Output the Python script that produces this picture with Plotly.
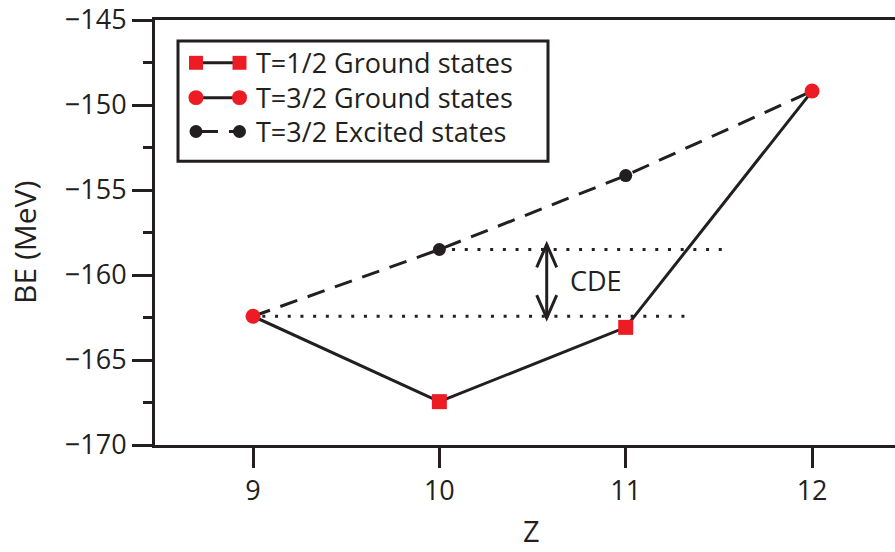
import plotly.graph_objects as go

# Binding energies (MeV) of the isobaric states
z_half = [10, 11]
be_half_ground = [-167.45, -163.08]      # T=1/2 ground states
z_three = [9, 12]
be_three_ground = [-162.43, -149.18]     # T=3/2 ground states
z_excited = [10, 11]
be_excited = [-158.5, -154.15]           # T=3/2 excited states

x_ticks = [9, 10, 11, 12]
y_ticks = [-170, -165, -160, -155, -150, -145]

INK = "#231f20"
RED = "#ed1c24"
FONT = "Open Sans"

# plot-area geometry (pixels) used for paper-coordinate legend items
L, R, T, B = 155, 895, 18, 445
W, H = 895, 552


def px(x):
    return (x - L) / (R - L)


def py(y):
    return (B - y) / (B - T)


fig = go.Figure()

# solid line through all ground states
ground_x = [z_three[0], z_half[0], z_half[1], z_three[1]]
ground_y = [be_three_ground[0], be_half_ground[0], be_half_ground[1], be_three_ground[1]]
fig.add_trace(go.Scatter(x=ground_x, y=ground_y, mode="lines",
                         line=dict(color=INK, width=3), showlegend=False))

# dashed line through the T=3/2 analogue states
exc_x = [z_three[0]] + z_excited + [z_three[1]]
exc_y = [be_three_ground[0]] + be_excited + [be_three_ground[1]]
fig.add_trace(go.Scatter(x=exc_x, y=exc_y, mode="lines",
                         line=dict(color=INK, width=3, dash="18px,11px"), showlegend=False))

# dotted reference levels
fig.add_trace(go.Scatter(x=[z_excited[0], 11.535], y=[be_excited[0]] * 2, mode="lines",
                         line=dict(color=INK, width=3, dash="3px,9.7px"), showlegend=False))
fig.add_trace(go.Scatter(x=[9.05, 11.36], y=[be_three_ground[0]] * 2, mode="lines",
                         line=dict(color=INK, width=3, dash="3px,9.7px"), showlegend=False))

# markers
fig.add_trace(go.Scatter(x=z_half, y=be_half_ground, mode="markers",
                         marker=dict(symbol="square", size=15, color=RED),
                         showlegend=False))
fig.add_trace(go.Scatter(x=z_three, y=be_three_ground, mode="markers",
                         marker=dict(symbol="circle", size=15, color=RED),
                         showlegend=False))
fig.add_trace(go.Scatter(x=z_excited, y=be_excited, mode="markers",
                         marker=dict(symbol="circle", size=13, color=INK),
                         showlegend=False))

shapes = []

# double arrow marking the Coulomb displacement energy
ax = 10.576
y_top, y_bot = be_excited[0] + 0.3, be_three_ground[0] - 0.1
dx, dy = 10 / 186.33, 23 / 17.08
shapes.append(dict(type="line", xref="x", yref="y", x0=ax, x1=ax, y0=y_bot, y1=y_top,
                   line=dict(color=INK, width=3)))
shapes.append(dict(type="path", xref="x", yref="y",
                   path=f"M {ax - dx},{y_top - dy} L {ax},{y_top} L {ax + dx},{y_top - dy}",
                   line=dict(color=INK, width=3)))
shapes.append(dict(type="path", xref="x", yref="y",
                   path=f"M {ax - dx},{y_bot + dy} L {ax},{y_bot} L {ax + dx},{y_bot + dy}",
                   line=dict(color=INK, width=3)))

# legend box
shapes.append(dict(type="rect", xref="paper", yref="paper",
                   x0=px(178), x1=px(548), y0=py(160), y1=py(39),
                   line=dict(color=INK, width=3), fillcolor="white", layer="above"))

rows = [61, 96, 130]
xa, xb = 196, 239.5
# row 1: squares joined by solid line
shapes.append(dict(type="line", xref="paper", yref="paper",
                   x0=px(xa), x1=px(xb), y0=py(rows[0]), y1=py(rows[0]),
                   line=dict(color=INK, width=3)))
for cx in (xa, xb):
    shapes.append(dict(type="rect", xref="paper", yref="paper",
                       x0=px(cx - 7), x1=px(cx + 7), y0=py(rows[0] + 7), y1=py(rows[0] - 7),
                       line=dict(width=0), fillcolor=RED))
# row 2: red circles joined by solid line
shapes.append(dict(type="line", xref="paper", yref="paper",
                   x0=px(xa), x1=px(xb), y0=py(rows[1]), y1=py(rows[1]),
                   line=dict(color=INK, width=3)))
for cx in (xa, xb):
    shapes.append(dict(type="circle", xref="paper", yref="paper",
                       x0=px(cx - 7.5), x1=px(cx + 7.5), y0=py(rows[1] + 7.5), y1=py(rows[1] - 7.5),
                       line=dict(width=0), fillcolor=RED))
# row 3: black circles joined by dashed line
for x0, x1 in ((xa, 218), (229, xb)):
    shapes.append(dict(type="line", xref="paper", yref="paper",
                       x0=px(x0), x1=px(x1), y0=py(rows[2]), y1=py(rows[2]),
                       line=dict(color=INK, width=3)))
for cx in (xa, xb):
    shapes.append(dict(type="circle", xref="paper", yref="paper",
                       x0=px(cx - 6.5), x1=px(cx + 6.5), y0=py(rows[2] + 6.5), y1=py(rows[2] - 6.5),
                       line=dict(width=0), fillcolor=INK))

legend_labels = ["T=1/2 Ground states", "T=3/2 Ground states", "T=3/2 Excited states"]
annotations = []
for lab, ry in zip(legend_labels, rows):
    annotations.append(dict(text=lab, xref="paper", yref="paper", x=px(254), y=py(ry),
                            xanchor="left", yanchor="middle", showarrow=False,
                            font=dict(family=FONT, size=27, color=INK)))

annotations.append(dict(text="CDE", xref="x", yref="y", x=10.841, y=-160.34,
                        xanchor="center", yanchor="middle", showarrow=False,
                        font=dict(family=FONT, size=27, color=INK)))

# axis titles
annotations.append(dict(text="BE (MeV)", xref="paper", yref="paper", x=px(25), y=py(242),
                        xanchor="center", yanchor="middle", textangle=-90, showarrow=False,
                        font=dict(family=FONT, size=30, color=INK)))
annotations.append(dict(text="Z", xref="paper", yref="paper", x=px(531), y=py(531),
                        xanchor="center", yanchor="middle", showarrow=False,
                        font=dict(family=FONT, size=29, color=INK)))

fig.update_layout(
    width=W, height=H,
    margin=dict(l=L, r=W - R, t=T, b=H - B),
    paper_bgcolor="white", plot_bgcolor="white",
    shapes=shapes, annotations=annotations,
    showlegend=False,
    xaxis=dict(range=[8.474, 12.445], tickvals=x_ticks, ticktext=[str(v) for v in x_ticks],
               showgrid=False, zeroline=False, showline=True, linecolor=INK, linewidth=3,
               mirror=True, ticks="outside", ticklen=20, tickwidth=3, tickcolor=INK,
               tickfont=dict(family=FONT, size=27, color=INK)),
    yaxis=dict(range=[-170, -145], tickvals=y_ticks, ticklabeloverflow="allow",
               showgrid=False, zeroline=False, showline=True, linecolor=INK, linewidth=3,
               ticks="outside", ticklen=20, tickwidth=3, tickcolor=INK,
               minor=dict(dtick=2.5, tick0=-170, ticks="outside", ticklen=9, tickwidth=3,
                          tickcolor=INK, showgrid=False),
               tickfont=dict(family=FONT, size=27, color=INK)),
)

fig.write_html("out.html")
